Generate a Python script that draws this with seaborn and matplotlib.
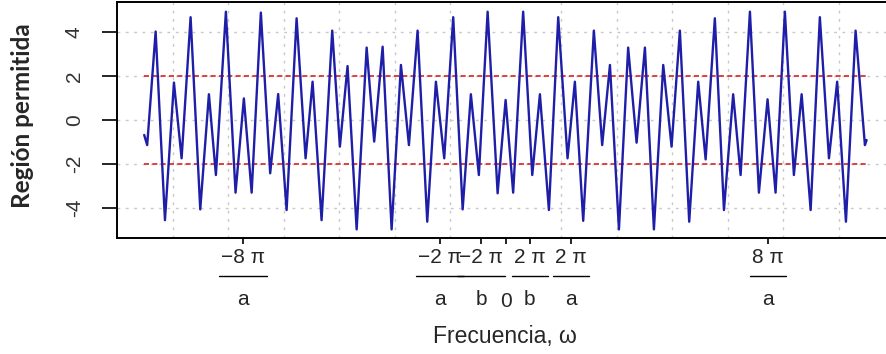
import numpy as np
import pandas as pd
import matplotlib
matplotlib.use("Agg")
import matplotlib.pyplot as plt
from matplotlib.ticker import FixedLocator
from matplotlib.transforms import blended_transform_factory
from matplotlib.lines import Line2D
import seaborn as sns

sns.set_style("white")
plt.rcParams["font.family"] = ["Liberation Sans", "DejaVu Sans"]

# extrema of the curve (omega, value)
omega = [-32.55, -32.28, -31.52, -30.68, -29.87, -29.18, -28.37, -27.50, -26.72, -26.09,
         -25.19, -24.32, -23.57, -22.87, -22.04, -21.20, -20.48, -19.72, -18.82, -18.01,
         -17.38, -16.57, -15.61, -14.92, -14.23, -13.41, -12.51, -11.83, -11.07, -10.26,
         -9.42, -8.70, -7.92, -7.05, -6.27, -5.52, -4.71, -3.86, -3.12, -2.40,
         -1.61, -0.71, 0.01, 0.69, 1.59, 2.41, 3.10, 3.91, 4.75, 5.59,
         6.25, 7.00, 7.96, 8.71, 9.41, 10.22, 11.05, 11.81, 12.56, 13.37,
         14.21, 14.96, 15.71, 16.55, 17.36, 18.03, 18.86, 19.68, 20.51, 21.18,
         22.02, 22.83, 23.61, 24.33, 25.17, 25.98, 26.68, 27.49, 28.32, 29.14,
         29.88, 30.67, 31.54, 32.38, 32.53]
f_omega = [-0.68, -1.14, 4.02, -4.55, 1.70, -1.74, 4.67, -4.06, 1.17, -2.50,
           4.92, -3.30, 0.98, -3.30, 4.88, -2.42, 1.18, -4.09, 4.62, -1.74,
           1.74, -4.55, 4.06, -1.21, 2.45, -4.97, 3.29, -0.98, 3.33, -4.97,
           2.50, -1.14, 4.06, -4.62, 1.74, -1.74, 4.67, -4.06, 1.17, -2.50,
           4.92, -3.33, 0.91, -3.30, 4.92, -2.50, 1.17, -4.09, 4.67, -1.74,
           1.74, -4.58, 4.06, -1.14, 2.50, -4.97, 3.29, -1.03, 3.29, -4.97,
           2.50, -1.21, 4.06, -4.62, 1.74, -1.79, 4.62, -4.09, 1.17, -2.50,
           4.92, -3.30, 0.94, -3.30, 4.92, -2.50, 1.17, -4.09, 4.67, -1.74,
           1.74, -4.62, 4.06, -1.14, -0.91]

band_limits = [-2, 2]
tick_pos = [-23.62, -5.92, -2.18, 0, 2.18, 5.92, 23.62]
tick_num = ["−8 π", "−2 π", "−2 π", "0", "2 π", "2 π", "8 π"]
tick_den = ["a", "a", "b", "", "b", "a", "a"]
y_ticks = [-4, -2, 0, 2, 4]
grid_x = list(range(-30, 31, 5))

df = pd.DataFrame({"omega": omega, "f": f_omega})

fig = plt.figure(figsize=(8.86, 3.54), dpi=100)
ax = fig.add_axes([117 / 886, 116 / 354, 777 / 886, 236 / 354])

ax.set_xlim(-35.0, 35.0)
ax.set_ylim(-5.36, 5.36)

ax.xaxis.set_minor_locator(FixedLocator(grid_x))
ax.grid(True, which="minor", axis="x", color="#c8c8c8", linestyle=(0, (2, 4)), linewidth=1.0)
ax.set_yticks(y_ticks)
ax.grid(True, which="major", axis="y", color="#c8c8c8", linestyle=(0, (2, 4)), linewidth=1.0)
ax.set_axisbelow(True)

ax.hlines(band_limits, omega[0], omega[-1], colors="#d82020",
          linestyles=(0, (3, 2)), linewidth=1.2, zorder=2)
sns.lineplot(data=df, x="omega", y="f", ax=ax, color="#1e1ea8",
             linewidth=1.7, estimator=None, sort=False, zorder=3)
ax.lines[-1].set_solid_joinstyle("round")

# x tick labels drawn as fractions: numerator as tick label, bar + denominator below
fs_tick = 15
ax.set_xticks(tick_pos)
ax.set_xticklabels(tick_num, fontsize=fs_tick)
ax.tick_params(axis="x", which="major", length=4, width=1.2, pad=3, color="black",
               direction="out", bottom=True)
ax.tick_params(axis="x", which="minor", length=0)
ax.xaxis.get_major_ticks()[3].set_pad(35)

trans = blended_transform_factory(ax.transData, ax.transAxes)
ax_h = 236.0
for x, den in zip(tick_pos, tick_den):
    if den:
        ax.text(x, -(305 - 238) / ax_h, den, transform=trans, ha="center",
                va="baseline", fontsize=fs_tick, clip_on=False)

fig.canvas.draw()
renderer = fig.canvas.get_renderer()
inv = ax.transData.inverted()
for lab, den in zip(ax.get_xticklabels(), tick_den):
    if not den:
        continue
    bb = lab.get_window_extent(renderer)
    x0 = inv.transform((bb.x0 - 2, 0))[0]
    x1 = inv.transform((bb.x1 + 2, 0))[0]
    ybar = -(276 - 238) / ax_h
    ax.add_line(Line2D([x0, x1], [ybar, ybar], transform=trans, color="black",
                       linewidth=1.0, clip_on=False))

ax.set_yticklabels([str(v) for v in y_ticks], rotation=90, va="center",
                   fontsize=15, color="#333333")
ax.tick_params(axis="y", length=11, width=1.2, pad=13, color="black",
               direction="out", left=True)

for side in ["left", "top", "bottom"]:
    ax.spines[side].set_color("black")
    ax.spines[side].set_linewidth(1.4)
ax.spines["right"].set_visible(False)

ax.set_xlabel("Frecuencia, ω", fontsize=16.5)
ax.xaxis.set_label_coords(0.4994, -(336 - 238) / ax_h)
ax.xaxis.label.set_va("center")
ax.set_ylabel("Región permitida", fontsize=17.5, fontweight="bold", family="Lato")
ax.yaxis.set_label_coords(-0.122, 0.517)
ax.yaxis.label.set_va("center")

fig.savefig("out.png", dpi=100)
